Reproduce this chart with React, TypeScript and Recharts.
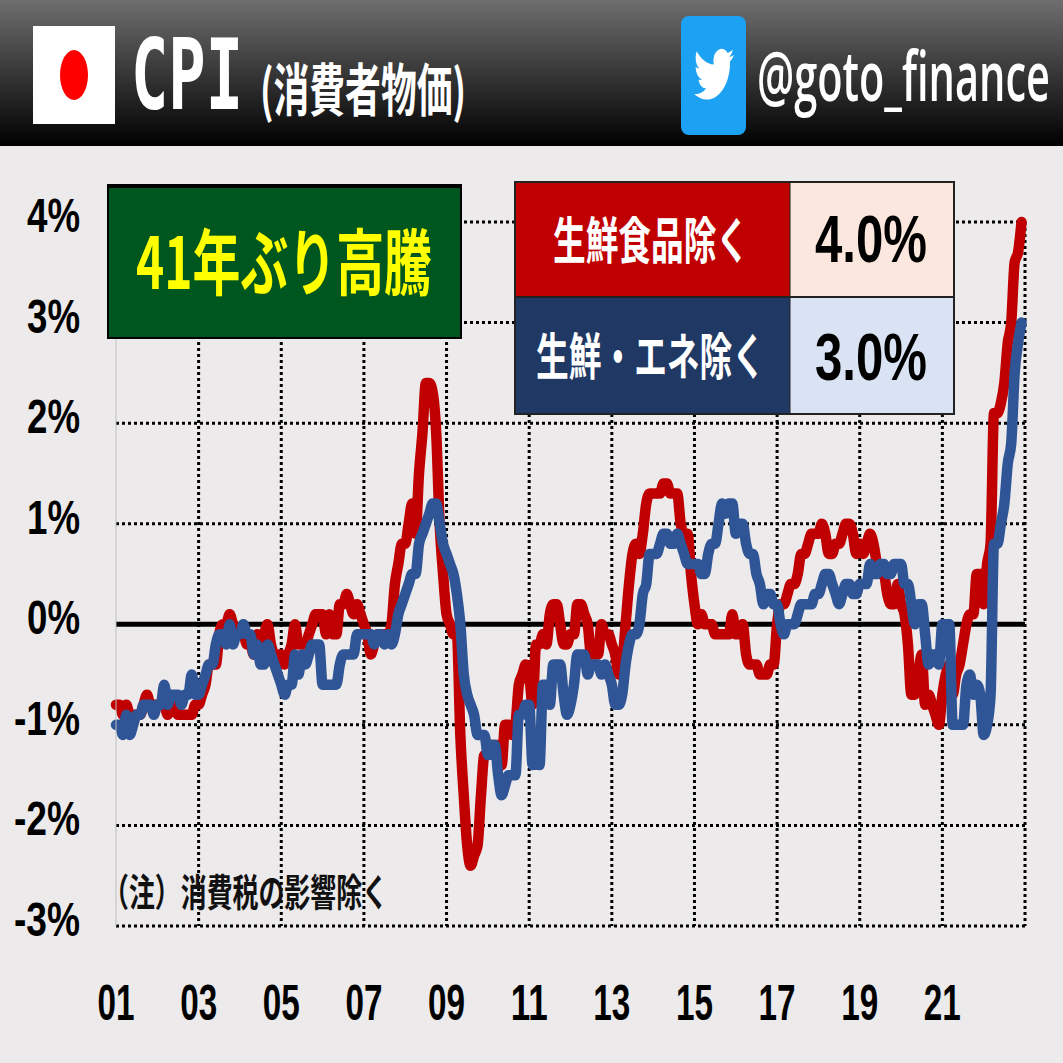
import React from "react";
import { LineChart, Line, XAxis, YAxis, CartesianGrid, ReferenceLine } from "recharts";

// monthly y/y %, Jan 2001 - Dec 2022
const exFresh = [
  -0.8, -0.8, -0.9, -0.8, -0.9, -0.9, -0.9, -0.9, -0.8, -0.7, -0.8, -0.8,
  -0.8, -0.8, -0.8, -0.9, -0.8, -0.8, -0.9, -0.9, -0.9, -0.9, -0.9, -0.8,
  -0.8, -0.7, -0.6, -0.4, -0.4, -0.4, -0.1, 0, 0, 0.1, 0, -0.1,
  -0.1, -0.1, -0.2, -0.2, -0.3, -0.1, -0.2, -0.1, 0, -0.2, -0.3, -0.3,
  -0.3, -0.4, -0.3, -0.2, 0, -0.2, -0.2, -0.2, -0.1, 0, 0.1, 0.1,
  0.1, -0.1, 0.1, -0.1, -0.1, 0.2, 0.2, 0.3, 0.2, 0.1, 0.2, 0.1,
  0, -0.1, -0.3, -0.2, -0.1, -0.1, -0.1, -0.1, 0, 0.4, 0.6, 0.8,
  0.8, 1.0, 1.2, 0.9, 1.5, 1.9, 2.4, 2.4, 2.3, 1.9, 1.0, 0.5,
  0.1, 0, -0.1, -0.1, -1.1, -1.7, -2.2, -2.4, -2.3, -2.2, -1.7, -1.3,
  -1.3, -1.2, -1.2, -1.2, -1.4, -1.0, -1.0, -1.1, -1.0, -0.6, -0.5, -0.4,
  -0.5, -0.8, -0.2, -0.2, -0.1, -0.2, 0.1, 0.2, 0.2, 0, -0.2, -0.2,
  -0.1, -0.1, 0.2, 0.2, 0.1, 0, -0.3, -0.3, -0.3, 0, -0.1, -0.1,
  -0.2, -0.3, -0.5, -0.4, 0, 0.4, 0.7, 0.8, 0.7, 0.9, 1.2, 1.3,
  1.3, 1.3, 1.3, 1.4, 1.4, 1.3, 1.3, 1.3, 1.0, 0.9, 0.9, 0.5,
  0.2, 0, 0.1, 0, 0, 0, -0.1, -0.1, -0.1, -0.1, -0.1, 0.1,
  -0.1, -0.1, 0, -0.3, -0.4, -0.4, -0.4, -0.5, -0.5, -0.5, -0.4, -0.4,
  0, 0.2, 0.2, 0.3, 0.4, 0.4, 0.5, 0.7, 0.7, 0.8, 0.9, 0.9,
  0.9, 1.0, 0.9, 0.7, 0.7, 0.8, 0.8, 0.9, 1.0, 1.0, 0.9, 0.7,
  0.8, 0.7, 0.8, 0.9, 0.8, 0.6, 0.5, 0.5, 0.3, 0.2, 0.2, 0.4,
  0.2, 0.1, -0.2, -0.7, -0.7, -0.5, -0.3, -0.8, -0.7, -0.8, -0.9, -1.0,
  -0.7, -0.5, -0.4, -0.7, -0.5, -0.4, -0.2, 0, 0.1, 0.1, 0.5, 0.5,
  0.2, 0.6, 0.8, 2.1, 2.1, 2.2, 2.4, 2.8, 3.0, 3.6, 3.7, 4.0,
];

const exFreshEnergy = [
  -1.0, -1.0, -1.1, -0.9, -1.1, -1.0, -0.9, -0.9, -0.8, -0.8, -0.8, -0.9,
  -0.8, -0.8, -0.6, -0.8, -0.7, -0.7, -0.7, -0.8, -0.7, -0.7, -0.5, -0.7,
  -0.7, -0.6, -0.5, -0.4, -0.4, -0.2, -0.1, -0.1, -0.2, 0, -0.2, -0.1,
  -0.1, 0, -0.1, -0.1, -0.3, -0.2, -0.4, -0.4, -0.2, -0.3, -0.4, -0.5,
  -0.6, -0.7, -0.6, -0.6, -0.3, -0.5, -0.3, -0.4, -0.3, -0.2, -0.2, -0.2,
  -0.6, -0.6, -0.6, -0.6, -0.6, -0.4, -0.3, -0.3, -0.3, -0.3, -0.1, -0.1,
  -0.1, -0.1, -0.1, -0.2, -0.1, -0.1, -0.2, -0.1, -0.2, -0.1, 0.1, 0.2,
  0.3, 0.4, 0.5, 0.5, 0.8, 0.9, 1.0, 1.1, 1.2, 1.2, 1.0, 0.8,
  0.7, 0.6, 0.5, 0.3, 0, -0.5, -0.7, -0.8, -0.9, -1.1, -1.1, -1.1,
  -1.3, -1.2, -1.2, -1.5, -1.7, -1.6, -1.5, -1.5, -1.5, -0.9, -0.9, -0.8,
  -0.8, -1.4, -1.3, -1.4, -0.6, -0.6, -0.8, -0.4, -0.4, -0.4, -0.7, -0.9,
  -0.8, -0.6, -0.3, -0.3, -0.3, -0.5, -0.4, -0.4, -0.4, -0.5, -0.4, -0.5,
  -0.6, -0.8, -0.8, -0.7, -0.4, -0.2, -0.1, -0.1, 0, 0.3, 0.4, 0.7,
  0.7, 0.7, 0.8, 0.9, 0.9, 0.8, 0.8, 0.9, 0.8, 0.7, 0.6, 0.6,
  0.6, 0.6, 0.5, 0.5, 0.7, 0.8, 0.8, 1.0, 1.2, 1.1, 1.2, 1.2,
  0.9, 1.0, 1.0, 0.8, 0.7, 0.7, 0.5, 0.4, 0.2, 0.3, 0.3, 0.2,
  0.2, 0, -0.1, 0, 0, 0, 0.1, 0.2, 0.2, 0.2, 0.2, 0.3,
  0.3, 0.4, 0.5, 0.5, 0.4, 0.3, 0.2, 0.3, 0.4, 0.4, 0.3, 0.3,
  0.4, 0.4, 0.4, 0.6, 0.5, 0.5, 0.6, 0.6, 0.5, 0.5, 0.6, 0.6,
  0.6, 0.4, 0.4, 0.2, 0, 0.2, 0.2, -0.1, -0.4, -0.3, -0.3, -0.4,
  0, 0, 0, -1.0, -1.0, -1.0, -1.0, -0.6, -0.5, -0.7, -0.6, -0.7,
  -1.1, -1.0, -0.7, 0.8, 0.8, 1.0, 1.2, 1.6, 1.8, 2.5, 2.8, 3.0,
];

const yTicks = [-3, -2, -1, 0, 1, 2, 3, 4];
const xTicks = [0, 24, 48, 72, 96, 120, 144, 168, 192, 216, 240, 264];
const xLabels = ["01", "03", "05", "07", "09", "11", "13", "15", "17", "19", "21", ""];

const data = exFresh.map((v, i) => ({ month: i, exFresh: v, exFreshEnergy: exFreshEnergy[i] }));

const JP = "'Noto Sans CJK JP', sans-serif";
const LAT = "'Liberation Sans', sans-serif";

function YTick({ x, y, payload }: any) {
  const neg = payload.value < 0;
  return (
    <text x={80} y={y + 10} textAnchor="end" fontFamily={LAT} fontWeight={700} fontSize={48} fill="#000"
      textLength={neg ? 66 : 53} lengthAdjust="spacingAndGlyphs">
      {payload.value}%
    </text>
  );
}

function XTick({ x, payload }: any) {
  const label = xLabels[xTicks.indexOf(payload.value)];
  if (!label) return null;
  return (
    <text x={x} y={1020} textAnchor="middle" fontFamily={LAT} fontWeight={700} fontSize={50} fill="#000"
      textLength={37} lengthAdjust="spacingAndGlyphs">
      {label}
    </text>
  );
}

function Overlay() {
  return (
    <svg width={1063} height={1063} style={{ position: "absolute", left: 0, top: 0 }}>
      <defs>
        <linearGradient id="head" x1="0" y1="0" x2="0" y2="1">
          <stop offset="0" stopColor="#6e6e6e" />
          <stop offset="1" stopColor="#000" />
        </linearGradient>
      </defs>
      {/* header */}
      <rect x={0} y={0} width={1063} height={146} fill="url(#head)" />
      <rect x={33} y={26} width={82} height={98} fill="#fff" />
      <ellipse cx={74} cy={75} rx={14} ry={25} fill="#ff0000" />
      <text x={131} y={109} fontFamily="'DejaVu Sans Mono', monospace" fontWeight={700} fontSize={98} fill="#fff"
        textLength={112} lengthAdjust="spacingAndGlyphs">CPI</text>
      <text x={260} y={111} fontFamily={JP} fontWeight={700} fontSize={57} fill="#fff"
        textLength={206} lengthAdjust="spacingAndGlyphs">(消費者物価)</text>
      <rect x={681} y={16} width={65} height={119} rx={8} fill="#1DA1F2" />
      <path transform="translate(694,43) scale(1.67,2.6)" fill="#fff"
        d="M23.953 4.57a10 10 0 01-2.825.775 4.958 4.958 0 002.163-2.723c-.951.555-2.005.959-3.127 1.184a4.92 4.92 0 00-8.384 4.482C7.69 8.095 4.067 6.13 1.64 3.162a4.822 4.822 0 00-.666 2.475c0 1.71.87 3.213 2.188 4.096a4.904 4.904 0 01-2.228-.616v.06a4.923 4.923 0 003.946 4.827 4.996 4.996 0 01-2.212.085 4.936 4.936 0 004.604 3.417 9.867 9.867 0 01-6.102 2.105c-.39 0-.779-.023-1.17-.067a13.995 13.995 0 007.557 2.209c9.053 0 13.998-7.496 13.998-13.985 0-.21 0-.42-.015-.63A9.935 9.935 0 0024 4.59z" />
      <text x={757} y={101} fontFamily="'Open Sans', sans-serif" fontWeight={600} fontSize={68} fill="#fff"
        textLength={293} lengthAdjust="spacingAndGlyphs">@goto_finance</text>

      {/* green box */}
      <rect x={108} y={186} width={353} height={152} fill="#00561F" stroke="#000" strokeWidth={2} />
      <line x1={107} y1={186} x2={462} y2={186} stroke="#000" strokeWidth={4} />
      <text x={136} y={289} fontFamily={JP} fontWeight={700} fontSize={72} fill="#FFFF00"
        textLength={296} lengthAdjust="spacingAndGlyphs">41年ぶり高騰</text>

      {/* value table */}
      <rect x={515} y={182} width={275} height={115} fill="#C00000" />
      <rect x={790} y={182} width={164} height={115} fill="#FBE7DD" />
      <rect x={515} y={297} width={275} height={117} fill="#1F3864" />
      <rect x={790} y={297} width={164} height={117} fill="#DAE3F3" />
      <rect x={515} y={182} width={439} height={232} fill="none" stroke="#222" strokeWidth={2} />
      <line x1={515} y1={297} x2={954} y2={297} stroke="#222" strokeWidth={2} />
      <line x1={790} y1={182} x2={790} y2={414} stroke="#222" strokeWidth={1} />
      <text x={553} y={259} fontFamily={JP} fontWeight={700} fontSize={50} fill="#fff"
        textLength={196} lengthAdjust="spacingAndGlyphs">生鮮食品除く</text>
      <text x={536} y={375} fontFamily={JP} fontWeight={700} fontSize={50} fill="#fff"
        textLength={229} lengthAdjust="spacingAndGlyphs">生鮮・エネ除く</text>
      <text x={815} y={262} fontFamily={LAT} fontWeight={700} fontSize={66} fill="#000"
        textLength={112} lengthAdjust="spacingAndGlyphs">4.0%</text>
      <text x={815} y={380} fontFamily={LAT} fontWeight={700} fontSize={66} fill="#000"
        textLength={112} lengthAdjust="spacingAndGlyphs">3.0%</text>

      <text x={103} y={906} fontFamily={JP} fontWeight={700} fontSize={38} fill="#111"
        textLength={285} lengthAdjust="spacingAndGlyphs">（注）消費税の影響除く</text>
    </svg>
  );
}

export default function App() {
  return (
    <div style={{ position: "fixed", left: 0, top: 0, width: 1063, height: 1063, background: "#ECEAEB", overflow: "hidden" }}>
      <LineChart width={1063} height={1063} data={data} margin={{ top: 222, right: 38, bottom: 0, left: 0 }}>
        <CartesianGrid stroke="#000" strokeWidth={3} strokeDasharray="3 3" verticalValues={xTicks.slice(1)} />
        <XAxis dataKey="month" type="number" domain={[0, 264]} ticks={xTicks} height={137} interval={0}
          axisLine={false} tickLine={false} tick={<XTick />} />
        <YAxis domain={[-3, 4]} ticks={yTicks} width={116} interval={0}
          axisLine={{ stroke: "#BFBFBF", strokeWidth: 1 }} tickLine={false} tick={<YTick />} />
        <ReferenceLine y={0} stroke="#000" strokeWidth={5} />
        <Line dataKey="exFresh" type="monotone" stroke="#C00000" strokeWidth={10.5} strokeLinecap="round" strokeLinejoin="round" dot={false} isAnimationActive={false} />
        <Line dataKey="exFreshEnergy" type="monotone" stroke="#2F5597" strokeWidth={10.5} strokeLinecap="round" strokeLinejoin="round" dot={false} isAnimationActive={false} />
      </LineChart>
      <Overlay />
    </div>
  );
}
